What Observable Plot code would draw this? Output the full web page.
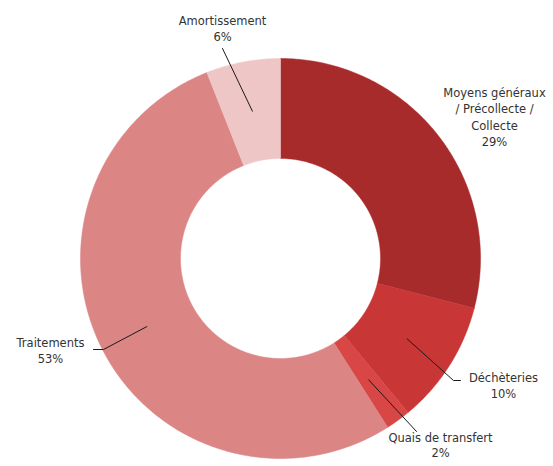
<!DOCTYPE html>
<html><head><meta charset="utf-8">
<script src="https://cdn.jsdelivr.net/npm/d3@7"></script>
<script src="https://cdn.jsdelivr.net/npm/@observablehq/plot@0.6"></script>
<style>body{margin:0;background:#fff}</style>
</head><body><div id="chart"></div>
<script>
const categories = ["Moyens généraux / Précollecte / Collecte", "Déchèteries", "Quais de transfert", "Traitements", "Amortissement"];
const labels = ["Moyens généraux\n/ Précollecte /\nCollecte\n29%", "Déchèteries\n10%", "Quais de transfert\n2%", "Traitements\n53%", "Amortissement\n6%"];
const values = [29, 10, 2, 53, 6];
const colors = ["#a82b2c", "#c93636", "#d84646", "#dc8585", "#efc6c6"];

// layout (pixels): label block center-x / top, leader end points
const W = 553, H = 466, CX = 280, CY = 258, R = 200;
const labelPos = [[494, 85], [503, 370], [440, 431], [50, 335], [222, 13]];
const leaderEnds = [null, [[453, 380], [460, 380]], [[416, 431]], [[103, 349], [93, 349]], [[222, 48]]];
const lineHeights = [1.42, 1.42, 1.3, 1.42, 1.42];

const toU = px => (px - CX) / R, toV = py => (CY - py) / R;
const total = d3.sum(values);
const inner = 0.5, outer = 1, leadR = 0.75;

let acc = 0;
const slices = values.map((v, i) => { const a0 = acc / total * 2 * Math.PI; acc += v; const a1 = acc / total * 2 * Math.PI; return {i, a0, a1}; });
const poly = [];
slices.forEach(s => {
  const n = Math.max(4, Math.ceil((s.a1 - s.a0) / 0.01));
  for (let k = 0; k <= n; k++) { const a = s.a0 + (s.a1 - s.a0) * k / n; poly.push({c: categories[s.i], u: outer * Math.sin(a), v: outer * Math.cos(a)}); }
  for (let k = n; k >= 0; k--) { const a = s.a0 + (s.a1 - s.a0) * k / n; poly.push({c: categories[s.i], u: inner * Math.sin(a), v: inner * Math.cos(a)}); }
  poly.push({c: categories[s.i], u: outer * Math.sin(s.a0), v: outer * Math.cos(s.a0)});
});
const leaders = [];
slices.forEach(s => {
  if (!leaderEnds[s.i]) return;
  const m = (s.a0 + s.a1) / 2;
  leaders.push({c: categories[s.i], u: leadR * Math.sin(m), v: leadR * Math.cos(m)});
  leaderEnds[s.i].forEach(([px, py]) => leaders.push({c: categories[s.i], u: toU(px), v: toV(py)}));
});
const texts = labels.map((t, i) => ({t, u: toU(labelPos[i][0]), v: toV(labelPos[i][1]), lh: lineHeights[i]}));

const chart = Plot.plot({
  width: W, height: H, margin: 0,
  x: {domain: [toU(0), toU(W)], axis: null},
  y: {domain: [toV(H), toV(0)], axis: null},
  color: {domain: categories, range: colors},
  marks: [
    Plot.line(poly, {x: "u", y: "v", z: "c", fill: "c", stroke: "c", strokeWidth: 0.5, curve: "linear"}),
    Plot.line(leaders, {x: "u", y: "v", z: "c", stroke: "#1a1a1a", strokeWidth: 1}),
    ...texts.map(d => Plot.text([d], {x: "u", y: "v", text: "t", lineAnchor: "top", textAnchor: "middle", fontSize: 11.5, lineHeight: d.lh, fill: "#333", fontFamily: "DejaVu Sans"}))
  ],
  style: {background: "#fff", overflow: "hidden"}
});
document.getElementById("chart").append(chart);
</script></body></html>
